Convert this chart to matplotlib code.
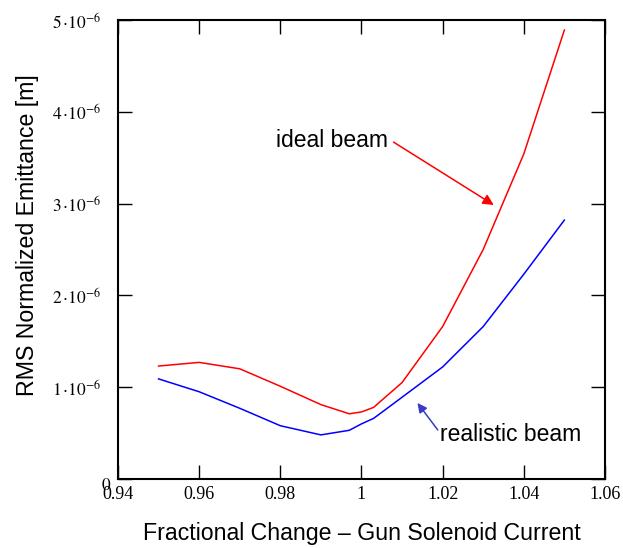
import matplotlib
matplotlib.use('Agg')
import matplotlib.pyplot as plt
import matplotlib.transforms as mtransforms

plt.rcParams['font.family'] = ['Liberation Sans', 'DejaVu Sans']
plt.rcParams['mathtext.fontset'] = 'stix'

# fractional change of gun solenoid current
current = [0.95, 0.96, 0.97, 0.98, 0.99, 0.997, 1.0, 1.003, 1.01, 1.02, 1.03, 1.04, 1.05]
# RMS normalized emittance (units of 1e-6 m)
ideal = [1.23, 1.27, 1.20, 1.01, 0.81, 0.71, 0.73, 0.78, 1.05, 1.66, 2.50, 3.54, 4.89]
realistic = [1.09, 0.95, 0.77, 0.58, 0.48, 0.53, 0.60, 0.66, 0.89, 1.22, 1.66, 2.23, 2.82]

xticks = [0.94, 0.96, 0.98, 1.0, 1.02, 1.04, 1.06]
xticklabels = ['0.94', '0.96', '0.98', '1', '1.02', '1.04', '1.06']
yticks = [0, 1e-6, 2e-6, 3e-6, 4e-6, 5e-6]
yticklabels = ['$0$', r'$1\,{\cdot}10^{-6}$', r'$2\,{\cdot}10^{-6}$', r'$3\,{\cdot}10^{-6}$',
               r'$4\,{\cdot}10^{-6}$', r'$5\,{\cdot}10^{-6}$']

fig = plt.figure(figsize=(6.23, 5.48), dpi=100)
ax = fig.add_axes([0.1894, 0.126, 0.7816, 0.8375])

ax.plot(current, [v * 1e-6 for v in ideal], color='#ff0000', lw=1.1)
ax.plot(current, [v * 1e-6 for v in realistic], color='#0000ff', lw=1.1)

ax.set_xlim(0.94, 1.06)
ax.set_ylim(0, 5e-6)
ax.set_xticks(xticks)
ax.set_xticklabels(xticklabels, fontfamily='Liberation Serif', fontsize=13)
ax.set_yticks(yticks)
ax.set_yticklabels(yticklabels, fontsize=12.5)
ax.tick_params(direction='in', length=10, width=1, top=True, right=True)
ax.tick_params(axis='x', pad=5)
ax.tick_params(axis='y', pad=12)
for s in ax.spines.values():
    s.set_linewidth(1.5)

# the zero label sits closer to the corner in the original
zero = ax.get_yticklabels()[0]
zero.set_transform(zero.get_transform() +
                   mtransforms.ScaledTranslation(10 / 100, -5 / 100, fig.dpi_scale_trans))

ax.set_xlabel('Fractional Change \u2013 Gun Solenoid Current', fontsize=16.7, labelpad=14)
ax.set_ylabel('RMS Normalized Emittance [m]', fontsize=16.7, labelpad=9, y=0.532)

ax.text(0.979, 3.69e-6, 'ideal beam', fontsize=16.5, va='center', ha='left')
ax.annotate('', xy=(1.0326, 2.985e-6), xytext=(1.0079, 3.67e-6),
            arrowprops=dict(arrowstyle='-|>', color='#ff0000', lw=1.1,
                            mutation_scale=16, shrinkA=0, shrinkB=0))
ax.text(1.0193, 0.479e-6, 'realistic beam', fontsize=16.5, va='center', ha='left')
ax.annotate('', xy=(1.0138, 0.828e-6), xytext=(1.0188, 0.534e-6),
            arrowprops=dict(arrowstyle='-|>', color='#3a3ac8', lw=1.1,
                            mutation_scale=14, shrinkA=0, shrinkB=0))

fig.savefig('out.png', dpi=100)
